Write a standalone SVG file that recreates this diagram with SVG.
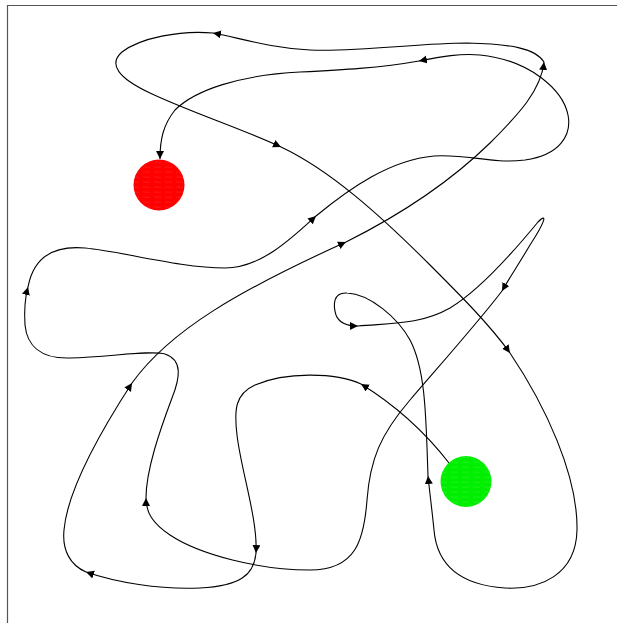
<svg xmlns="http://www.w3.org/2000/svg" width="617" height="623" viewBox="0 0 617 623">
<defs>
<style>
.frame{fill:none;stroke:#555;stroke-width:1.2}
.c{fill:none;stroke:#000;stroke-width:1.1;marker-end:url(#ah)}
.hatch{stroke-width:0.5;opacity:0.35}
</style>
<marker id="ah" markerUnits="userSpaceOnUse" markerWidth="9" markerHeight="9" refX="8" refY="4" orient="auto">
<path d="M0,0 L8,4 L0,8 z" fill="#000"/>
</marker>
<pattern id="hr" patternUnits="userSpaceOnUse" width="11" height="5">
<rect width="11" height="5" fill="#ff0000"/>
<line x1="0" y1="2" x2="7" y2="2.3" stroke="#ff8080" class="hatch"/>
</pattern>
<pattern id="hg" patternUnits="userSpaceOnUse" width="11" height="5">
<rect width="11" height="5" fill="#00ee00"/>
<line x1="0" y1="2" x2="7" y2="2.3" stroke="#a0ffa0" class="hatch"/>
</pattern>
</defs>
<rect width="617" height="623" fill="#fff"/>
<path class="frame" d="M7.5,623 L7.5,5.5 L617,5.5"/>
<g id="connectors">
<path class="c" d="M449,463 C425,432 395,405 361,384"/>
<path class="c" d="M361,384 C335,372 285,372 255,385 C235,394 234,410 237,435 C241,470 258,520 256,553"/>
<path class="c" d="M256,553 C254,575 240,586 200,588 C160,590 115,582 86,572"/>
<path class="c" d="M86,572 C70,565 62,550 64,530 C67,495 95,440 132,383"/>
<path class="c" d="M132,383 C170,330 240,290 346,242"/>
<path class="c" d="M346,242 C400,215 450,182 490,143 C520,113 541,90 544,62"/>
<path class="c" d="M544,62 C535,48 510,44 467,43 C420,43 360,52 310,50 C270,48 240,38 213,33"/>
<path class="c" d="M213,33 C180,30 140,38 122,52 C108,64 118,78 150,93 C190,112 240,128 281,147"/>
<path class="c" d="M281,147 C330,170 380,215 430,265 C460,295 490,325 510,353"/>
<path class="c" d="M510,353 C545,405 578,475 577,530 C576,575 540,590 505,588 C460,585 437,565 434,530 C432,510 430,495 428,476"/>
<path class="c" d="M428,476 C426,420 426,370 410,340 C398,318 370,294 347,293 C333,292 333,305 336,315 C339,323 347,326 358,326"/>
<path class="c" d="M358,326 C390,323 420,325 450,308 C480,290 515,250 538,222 C548,212 545,222 530,245 C520,262 510,277 502,291"/>
<path class="c" d="M502,291 C480,320 440,365 410,400 C380,435 370,460 367,500 C364,540 356,570 310,570 C260,570 200,555 170,535 C152,523 146,512 146,498"/>
<path class="c" d="M146,498 C146,470 160,430 172,398 C180,378 183,360 165,354 C150,350 110,357 70,358 C40,359 27,345 25,325 C24,310 25,298 28,287"/>
<path class="c" d="M28,287 C33,260 50,245 85,248 C120,251 180,268 225,268 C260,268 290,240 316,216"/>
<path class="c" d="M316,216 C350,188 390,160 434,156 C470,154 490,164 525,160 C560,155 572,135 568,115 C563,90 530,60 480,55 C460,53 440,57 419,61"/>
<path class="c" d="M419,61 C380,68 340,70 300,72 C240,75 195,90 175,110 C163,125 160,140 160,159"/>
</g>
<g id="red">
<circle cx="159" cy="185" r="25.5" fill="url(#hr)"/>
</g>
<g id="green">
<circle cx="466" cy="481.5" r="25.5" fill="url(#hg)"/>
</g>
</svg>
